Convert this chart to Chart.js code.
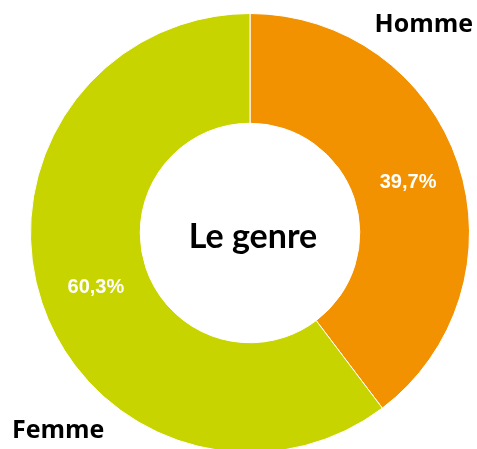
<!DOCTYPE html>
<html>
<head>
<meta charset="utf-8">
<script src="https://cdn.jsdelivr.net/npm/chart.js@4"></script>
<style>
html,body{margin:0;padding:0;background:#fff;overflow:hidden;width:477px;height:449px;}
#wrap{position:absolute;left:0;top:0;width:477px;height:466px;}
</style>
</head>
<body>
<div id="wrap"><canvas id="c" width="477" height="466"></canvas></div>
<script>
const categories = ["Homme", "Femme"];
const values = [39.7, 60.3];
const valueLabels = ["39,7%", "60,3%"];
const colors = ["#F39200", "#C8D400"];
const centerTitle = "Le genre";

const labelPlugin = {
  id: 'labels',
  afterDatasetsDraw(chart) {
    const ctx = chart.ctx;
    const meta = chart.getDatasetMeta(0);
    ctx.save();
    ctx.textAlign = 'center';
    ctx.textBaseline = 'alphabetic';
    ctx.fillStyle = '#fff';
    ctx.font = 'bold 20px "Liberation Sans", Arial, sans-serif';
    meta.data.forEach((arc, i) => {
      const p = arc.tooltipPosition();
      ctx.fillText(valueLabels[i], p.x + 2, p.y + 7.5);
    });
    const cx = (chart.chartArea.left + chart.chartArea.right) / 2;
    const cy = (chart.chartArea.top + chart.chartArea.bottom) / 2;
    ctx.fillStyle = '#000';
    ctx.font = 'bold 34px Lato, "Open Sans", sans-serif';
    ctx.fillText(centerTitle, cx + 3, cy + 15);
    ctx.font = 'bold 25px "Open Sans", Lato, sans-serif';
    ctx.textAlign = 'right';
    ctx.fillText(categories[0], 473, 32);
    ctx.textAlign = 'left';
    ctx.fillText(categories[1], 12, 438);
    ctx.restore();
  }
};

new Chart(document.getElementById('c'), {
  type: 'doughnut',
  data: {
    labels: categories,
    datasets: [{
      data: values,
      backgroundColor: colors,
      borderColor: '#ffffff',
      borderWidth: 1
    }]
  },
  options: {
    responsive: false,
    animation: false,
    cutout: '50%',
    rotation: 0,
    layout: { padding: { top: 13, bottom: 13, left: 30, right: 7 } },
    plugins: { legend: { display: false }, tooltip: { enabled: false } }
  },
  plugins: [labelPlugin]
});
</script>
</body>
</html>
